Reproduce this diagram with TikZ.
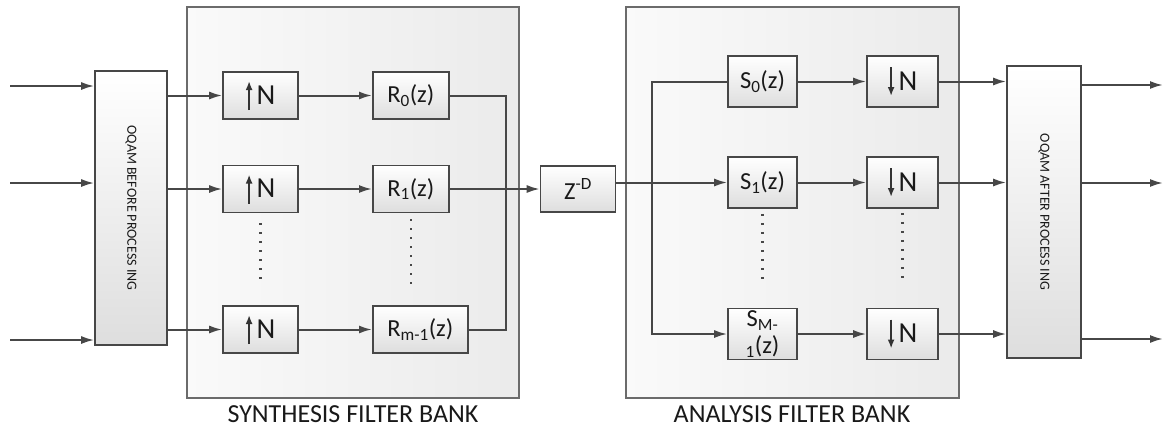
\documentclass[tikz,border=0pt]{standalone}
\usepackage{fontspec}
\setmainfont{Carlito}
\usetikzlibrary{positioning, calc, arrows.meta}
\tikzset{>={Latex[length=13pt,width=8pt]}}
\colorlet{boxline}{black!72}
\colorlet{frameline}{black!58}
\tikzset{
  blk/.style={draw=boxline, line width=1.6pt, top color=white, bottom color=black!13,
    inner sep=0pt, minimum width=75pt, minimum height=47pt, text=black!90,
    font=\fontsize{24.5}{26}\selectfont},
  bank/.style={draw=frameline, line width=1.5pt, left color=black!2, right color=black!8},
  banklabel/.style={text=black!90, font=\fontsize{26}{28}\selectfont},
  wire/.style={draw=boxline, line width=2pt},
  dots/.style={draw=boxline, line width=2.2pt, dash pattern=on 2pt off 7pt},
}
\newcommand{\uparr}{\tikz[baseline=0pt]\draw[-{Latex[length=9pt,width=7pt]},line width=1.8pt,draw=black!80] (0,-6pt) -- (0,23pt);}
\newcommand{\dnarr}{\tikz[baseline=0pt]\draw[-{Latex[length=9pt,width=7pt]},line width=1.8pt,draw=black!80] (0,23pt) -- (0,-6pt);}

\begin{document}
\begin{tikzpicture}[x=1pt, y=-1pt]
  \useasboundingbox (0,0) rectangle (1166,432);
  % Filter banks
  \draw[bank] (187,7) rectangle (519,398);
  \draw[bank] (626,7) rectangle (959,398);
  \node[banklabel] (synlab) at (353,414) {SYNTHESIS FILTER BANK};
  \node[banklabel] (analab) at (792,414) {ANALYSIS FILTER BANK};

  % OQAM stages
  \node[blk, minimum width=72pt, minimum height=274pt] (pre) at (131,208)
    {\rotatebox{-90}{\fontsize{14}{16}\selectfont OQAM BEFORE PROCESS ING}};
  \node[blk, minimum width=74pt, minimum height=292pt] (post) at (1044,212)
    {\rotatebox{-90}{\fontsize{14}{16}\selectfont OQAM AFTER PROCESS ING}};

  % Synthesis branches
  \foreach \i/\y/\w/\lab in {0/95.5/76/{R\textsubscript{0}(z)},
                             1/189/76/{R\textsubscript{1}(z)},
                             2/329.5/95/{R\textsubscript{m-1}(z)}}{
    \node[blk] (up\i) at (260.5,\y) {\uparr\,{\fontsize{29}{30}\selectfont N}};
    \node[blk, minimum width=\w pt, anchor=west] (r\i) at (372,\y) {\lab};
  }
  \node[blk, minimum height=46pt] (zd) at (578,189) {Z\textsuperscript{-D}};

  % Analysis branches
  \foreach \i/\y/\lab in {0/81.5/{S\textsubscript{0}(z)},
                          1/182.5/{S\textsubscript{1}(z)},
                          2/334/{S\textsubscript{M-}\\[1pt]\textsubscript{1}(z)}}{
    \node[blk, minimum width=69pt, minimum height=51pt, align=center] (s\i) at (762.5,\y) {\lab};
    \node[blk, minimum width=71pt, minimum height=51pt] (dn\i) at (902.5,\y) {\dnarr\,{\fontsize{29}{30}\selectfont N}};
  }

  % Inputs and outputs
  \foreach \i/\y/\yo in {0/86/85, 1/183/183, 2/340/339}{
    \coordinate (in\i) at (10,\y);
    \coordinate (out\i) at (1163,\yo);
    \draw[wire,->] (in\i) -- (in\i -| pre.west);
    \draw[wire,->] (post.east |- out\i) -- (out\i);
  }

  % Arrows
  \foreach \i in {0,1,2}{
    \draw[wire,->] (up\i -| pre.east) -- (up\i);
    \draw[wire,->] (up\i) -- (r\i);
    \draw[wire,->] (s\i) -- (dn\i);
    \draw[wire,->] (dn\i) -- (dn\i -| post.west);
  }
  \coordinate (sum) at (506,189);
  \draw[wire] (r0) -| (sum);
  \draw[wire] (r2) -| (sum);
  \draw[wire,->] (r1) -- (zd);
  \coordinate (split) at (652,182.5);
  \draw[wire] (zd.east |- split) -- (split);
  \draw[wire] (split) |- (s0);
  \draw[wire,->] (split) -- (s1);
  \draw[wire,->] (split) |- (s2);

  % Dots
  \draw[dots] ([yshift=-10pt]up1.south) -- ([yshift=19pt]up2.north);
  \draw[dots] ([yshift=-6pt]r1.south) -- ([yshift=-73pt]r1.south);
  \draw[dots] ([yshift=-5pt]s1.south) -- ([yshift=24pt]s2.north);
  \draw[dots] ([yshift=-4pt]dn1.south) -- ([yshift=26pt]dn2.north);
\end{tikzpicture}
\end{document}
